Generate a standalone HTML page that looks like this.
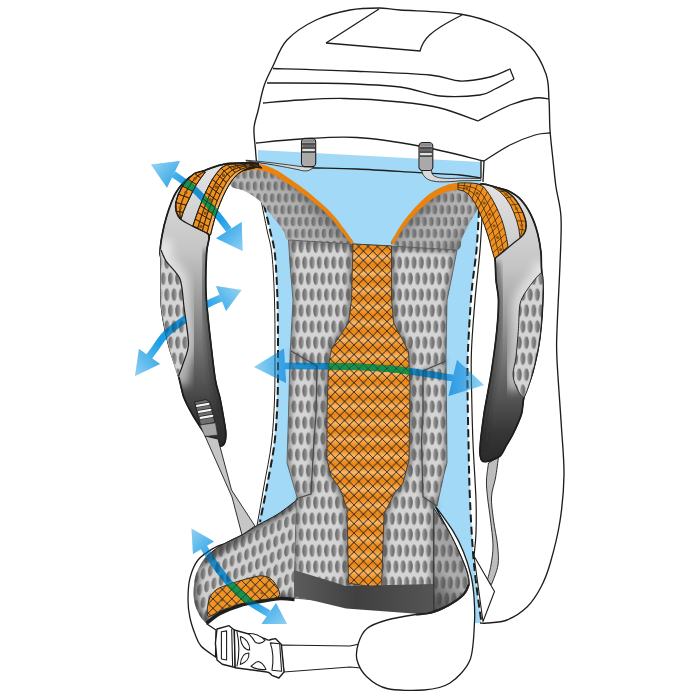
<!DOCTYPE html>
<html><head><meta charset="utf-8"><title>Backpack ventilation illustration</title>
<style>html,body{margin:0;padding:0;background:#fff;}svg{display:block;}</style></head>
<body><svg width="700" height="700" viewBox="0 0 700 700"><defs>
<pattern id="mesh" width="7.26" height="32" patternUnits="userSpaceOnUse" patternTransform="translate(1.84,16.6)">
<rect width="7.26" height="32" fill="#d4d4d4"/>
<ellipse cx="1.8" cy="6" rx="2.55" ry="6.35" fill="url(#dot)"/>
<ellipse cx="5.43" cy="22" rx="2.55" ry="6.35" fill="url(#dot)"/>
<ellipse cx="-1.83" cy="22" rx="2.55" ry="6.35" fill="url(#dot)"/>
<ellipse cx="9.06" cy="6" rx="2.55" ry="6.35" fill="url(#dot)"/>
</pattern>
<linearGradient id="dotR" x1="0" x2="1" y1="0" y2="0"><stop offset="0" stop-color="#a0a0a0"/><stop offset="0.45" stop-color="#838383"/><stop offset="1" stop-color="#636363"/></linearGradient>
<pattern id="meshR" width="7.26" height="32" patternUnits="userSpaceOnUse" patternTransform="translate(1.84,16.6)">
<rect width="7.26" height="32" fill="#d4d4d4"/>
<ellipse cx="1.8" cy="6" rx="2.55" ry="6.35" fill="url(#dotR)"/>
<ellipse cx="5.43" cy="22" rx="2.55" ry="6.35" fill="url(#dotR)"/>
<ellipse cx="-1.83" cy="22" rx="2.55" ry="6.35" fill="url(#dotR)"/>
<ellipse cx="9.06" cy="6" rx="2.55" ry="6.35" fill="url(#dotR)"/>
</pattern>
<pattern id="mesh2R" width="7.26" height="32" patternUnits="userSpaceOnUse" patternTransform="translate(1.84,4) scale(0.95,0.74)">
<rect width="7.26" height="32" fill="#bcbcbc"/>
<ellipse cx="1.8" cy="6" rx="2.55" ry="6.35" fill="url(#dotR)"/>
<ellipse cx="5.43" cy="22" rx="2.55" ry="6.35" fill="url(#dotR)"/>
<ellipse cx="-1.83" cy="22" rx="2.55" ry="6.35" fill="url(#dotR)"/>
<ellipse cx="9.06" cy="6" rx="2.55" ry="6.35" fill="url(#dotR)"/>
</pattern>
<pattern id="mesh3" width="7.26" height="32" patternUnits="userSpaceOnUse" patternTransform="translate(1.84,10) skewY(-24) scale(1,0.9)">
<rect width="7.26" height="32" fill="#cfcfcf"/>
<ellipse cx="1.8" cy="6" rx="2.55" ry="6.35" fill="url(#dot)"/>
<ellipse cx="5.43" cy="22" rx="2.55" ry="6.35" fill="url(#dot)"/>
<ellipse cx="-1.83" cy="22" rx="2.55" ry="6.35" fill="url(#dot)"/>
<ellipse cx="9.06" cy="6" rx="2.55" ry="6.35" fill="url(#dot)"/>
</pattern>
<pattern id="mesh2" width="7.26" height="32" patternUnits="userSpaceOnUse" patternTransform="translate(1.84,4) scale(0.95,0.74)">
<rect width="7.26" height="32" fill="#bcbcbc"/>
<ellipse cx="1.8" cy="6" rx="2.55" ry="6.35" fill="url(#dot)"/>
<ellipse cx="5.43" cy="22" rx="2.55" ry="6.35" fill="url(#dot)"/>
<ellipse cx="-1.83" cy="22" rx="2.55" ry="6.35" fill="url(#dot)"/>
<ellipse cx="9.06" cy="6" rx="2.55" ry="6.35" fill="url(#dot)"/>
</pattern>
<linearGradient id="yshL" x1="250" y1="230" x2="300" y2="180" gradientUnits="userSpaceOnUse"><stop offset="0" stop-color="#4a4a4a" stop-opacity="0.8"/><stop offset="0.4" stop-color="#777" stop-opacity="0.08"/><stop offset="0.75" stop-color="#555" stop-opacity="0.15"/><stop offset="1" stop-color="#4a4a4a" stop-opacity="0.7"/></linearGradient>
<linearGradient id="yshR" x1="485" y1="235" x2="435" y2="185" gradientUnits="userSpaceOnUse"><stop offset="0" stop-color="#4a4a4a" stop-opacity="0.8"/><stop offset="0.4" stop-color="#777" stop-opacity="0.08"/><stop offset="0.75" stop-color="#555" stop-opacity="0.15"/><stop offset="1" stop-color="#4a4a4a" stop-opacity="0.7"/></linearGradient>
<linearGradient id="wsh" x1="433" y1="600" x2="470" y2="560" gradientUnits="userSpaceOnUse"><stop offset="0" stop-color="#3a3a3a" stop-opacity="0.8"/><stop offset="0.55" stop-color="#555" stop-opacity="0.3"/><stop offset="1" stop-color="#555" stop-opacity="0.4"/></linearGradient>
<filter id="bl" x="-20%" y="-20%" width="140%" height="140%"><feGaussianBlur stdDeviation="2.6"/></filter>
<filter id="bl2" x="-20%" y="-20%" width="140%" height="140%"><feGaussianBlur stdDeviation="4"/></filter>
<linearGradient id="dot" x1="0" x2="1" y1="0" y2="0"><stop offset="0" stop-color="#636363"/><stop offset="0.55" stop-color="#838383"/><stop offset="1" stop-color="#a0a0a0"/></linearGradient>
<pattern id="ora" width="9.4" height="9.4" patternUnits="userSpaceOnUse" patternTransform="translate(1.5,2)">
<path d="M0,0 L9.4,9.4 M9.4,0 L0,9.4" stroke="#2e2a2c" stroke-width="0.65" fill="none"/>
</pattern>
<linearGradient id="orab" x1="0" x2="0" y1="406.3" y2="414.6" gradientUnits="userSpaceOnUse" spreadMethod="reflect">
<stop offset="0" stop-color="#f9b96c"/><stop offset="0.45" stop-color="#f39a30"/><stop offset="1" stop-color="#ea8414"/></linearGradient>
<linearGradient id="strapL" x1="0" x2="0" y1="170" y2="445" gradientUnits="userSpaceOnUse">
<stop offset="0" stop-color="#e2e2e2"/><stop offset="0.3" stop-color="#c4c4c4"/><stop offset="0.6" stop-color="#7d7d7d"/><stop offset="0.9" stop-color="#353535"/><stop offset="1" stop-color="#2a2a2a"/></linearGradient>
<linearGradient id="strapR" x1="0" x2="0" y1="185" y2="462" gradientUnits="userSpaceOnUse">
<stop offset="0" stop-color="#e2e2e2"/><stop offset="0.3" stop-color="#c4c4c4"/><stop offset="0.6" stop-color="#7d7d7d"/><stop offset="0.9" stop-color="#353535"/><stop offset="1" stop-color="#2a2a2a"/></linearGradient>
<linearGradient id="band" x1="294" x2="434" y1="0" y2="0" gradientUnits="userSpaceOnUse">
<stop offset="0" stop-color="#5c5c5c"/><stop offset="0.45" stop-color="#404040"/><stop offset="1" stop-color="#555"/></linearGradient>
<linearGradient id="ar1" x1="151" y1="165" x2="243" y2="251" gradientUnits="userSpaceOnUse">
<stop offset="0" stop-color="#93d1f3"/><stop offset="0.3" stop-color="#1e9fe6"/><stop offset="0.7" stop-color="#1e9fe6"/><stop offset="1" stop-color="#93d1f3"/></linearGradient>
<linearGradient id="ar2" x1="134" y1="376" x2="241" y2="290" gradientUnits="userSpaceOnUse">
<stop offset="0" stop-color="#93d1f3"/><stop offset="0.3" stop-color="#1e9fe6"/><stop offset="0.7" stop-color="#1e9fe6"/><stop offset="1" stop-color="#93d1f3"/></linearGradient>
<linearGradient id="ar3" x1="191" y1="528" x2="288" y2="624" gradientUnits="userSpaceOnUse">
<stop offset="0" stop-color="#93d1f3"/><stop offset="0.3" stop-color="#1e9fe6"/><stop offset="0.7" stop-color="#1e9fe6"/><stop offset="1" stop-color="#93d1f3"/></linearGradient>
<linearGradient id="ar4" x1="254" y1="0" x2="484" y2="0" gradientUnits="userSpaceOnUse">
<stop offset="0" stop-color="#93d1f3"/><stop offset="0.2" stop-color="#1e9fe6"/><stop offset="0.8" stop-color="#1e9fe6"/><stop offset="1" stop-color="#93d1f3"/></linearGradient>
<linearGradient id="edgeL" x1="0" x2="1" y1="0" y2="0"><stop offset="0" stop-color="#8a8a8a" stop-opacity="0.9"/><stop offset="1" stop-color="#8a8a8a" stop-opacity="0"/></linearGradient>
</defs>
<path d="M256.5,162.0 C256.3,160.0 255.9,155.7 255.5,150.0 C255.1,144.3 253.6,134.5 254.0,128.0 C254.4,121.5 256.3,118.0 258.0,111.0 C259.7,104.0 261.5,93.5 264.0,86.0 C266.5,78.5 269.2,73.7 273.0,66.0 C276.8,58.3 279.8,47.7 287.0,40.0 C294.2,32.3 305.5,25.0 316.0,20.0 C326.5,15.0 339.5,12.0 350.0,10.0 C360.5,8.0 370.7,8.0 379.0,8.0 C387.3,8.0 386.5,9.0 400.0,10.0 C413.5,11.0 443.3,11.3 460.0,14.0 C476.7,16.7 488.3,20.7 500.0,26.0 C511.7,31.3 522.3,38.0 530.0,46.0 C537.7,54.0 542.8,65.0 546.0,74.0 C549.2,83.0 548.3,90.7 549.0,100.0 C549.7,109.3 549.3,120.0 550.0,130.0 C550.7,140.0 552.0,150.5 553.0,160.0 C554.0,169.5 554.7,177.5 556.0,187.0 C557.3,196.5 560.3,204.2 561.0,217.0 C561.7,229.8 560.7,245.2 560.0,264.0 C559.3,282.8 557.5,314.0 557.0,330.0 C556.5,346.0 556.2,343.7 557.0,360.0 C557.8,376.3 560.3,408.8 561.5,428.0 C562.7,447.2 564.2,459.5 564.0,475.0 C563.8,490.5 562.3,506.2 560.0,521.0 C557.7,535.8 553.2,553.0 550.0,564.0 C546.8,575.0 544.8,579.8 541.0,587.0 C537.2,594.2 532.7,601.5 527.0,607.0 C521.3,612.5 513.7,617.3 507.0,620.0 C500.3,622.7 491.5,622.5 487.0,623.0 C482.5,623.5 481.2,623.0 480.0,623.0 L470,500 L480,210 L481,160 Z" fill="#fff" stroke="none"/>
<path d="M258,150 L481,162 L481,178 L479,210 L476.5,250 L471.5,293 L468,350 L467.5,386 L468.5,443 L470,500 L474,564 L481.5,623 L474,623 L440,560 L300,560 L258,524 L266,488 L274,443 L277,400 L278,350 L277.5,300 L275,255 L270,230 L264,207 L258,185Z" fill="#a2d9f6"/>
<path d="M256.5,162.0 C256.3,160.0 255.9,155.7 255.5,150.0 C255.1,144.3 253.6,134.5 254.0,128.0 C254.4,121.5 256.3,118.0 258.0,111.0 C259.7,104.0 261.5,93.5 264.0,86.0 C266.5,78.5 269.2,73.7 273.0,66.0 C276.8,58.3 279.8,47.7 287.0,40.0 C294.2,32.3 305.5,25.0 316.0,20.0 C326.5,15.0 339.5,12.0 350.0,10.0 C360.5,8.0 370.7,8.0 379.0,8.0 C387.3,8.0 386.5,9.0 400.0,10.0 C413.5,11.0 443.3,11.3 460.0,14.0 C476.7,16.7 488.3,20.7 500.0,26.0 C511.7,31.3 522.3,38.0 530.0,46.0 C537.7,54.0 542.8,65.0 546.0,74.0 C549.2,83.0 548.3,90.7 549.0,100.0 C549.7,109.3 549.3,120.0 550.0,130.0 C550.7,140.0 552.0,150.5 553.0,160.0 C554.0,169.5 554.7,177.5 556.0,187.0 C557.3,196.5 560.3,204.2 561.0,217.0 C561.7,229.8 560.7,245.2 560.0,264.0 C559.3,282.8 557.5,314.0 557.0,330.0 C556.5,346.0 556.2,343.7 557.0,360.0 C557.8,376.3 560.3,408.8 561.5,428.0 C562.7,447.2 564.2,459.5 564.0,475.0 C563.8,490.5 562.3,506.2 560.0,521.0 C557.7,535.8 553.2,553.0 550.0,564.0 C546.8,575.0 544.8,579.8 541.0,587.0 C537.2,594.2 532.7,601.5 527.0,607.0 C521.3,612.5 513.7,617.3 507.0,620.0 C500.3,622.7 491.5,622.5 487.0,623.0 C482.5,623.5 481.2,623.0 480.0,623.0" fill="none" stroke="#1d1d1b" stroke-width="1.35"/>
<path d="M326,43 L379,9 M326,43 L420,51 C423,40 428,32 462,15" fill="none" stroke="#1d1d1b" stroke-width="1.3"/>
<path d="M273.0,68.5 C285.8,68.9 323.8,69.9 350.0,71.0 C376.2,72.1 411.7,73.3 430.0,75.0 C448.3,76.7 450.0,80.7 460.0,81.0 C470.0,81.3 481.7,79.0 490.0,77.0 C498.3,75.0 506.7,70.3 510.0,69.0 L514,79 " fill="none" stroke="#1d1d1b" stroke-width="1.3"/>
<path d="M514.0,79.0 C510.8,80.7 500.7,86.3 495.0,89.0 C489.3,91.7 489.2,93.8 480.0,95.0 C470.8,96.2 453.3,97.3 440.0,96.0 C426.7,94.7 416.7,89.1 400.0,87.0 C383.3,84.9 362.2,84.2 340.0,83.5 C317.8,82.8 279.2,83.1 267.0,83.0" fill="none" stroke="#1d1d1b" stroke-width="1.3"/>
<path d="M263.0,103.0 C269.2,102.5 286.5,100.8 300.0,100.0 C313.5,99.2 327.3,98.2 344.0,98.5 C360.7,98.8 384.0,100.4 400.0,102.0 C416.0,103.6 427.0,104.8 440.0,108.0 C453.0,111.2 471.7,118.8 478.0,121.0 M478.0,121.0 C483.3,118.3 500.5,108.8 510.0,105.0 C519.5,101.2 528.5,99.0 535.0,98.0 C541.5,97.0 546.7,98.8 549.0,99.0" fill="none" stroke="#1d1d1b" stroke-width="1.3"/>
<path d="M256.0,143.0 C263.5,142.3 284.2,139.9 301.0,139.0 C317.8,138.1 337.3,136.3 357.0,137.5 C376.7,138.7 397.8,142.1 419.0,146.0 C440.2,149.9 473.2,158.5 484.0,161.0 M484.0,161.0 C488.3,158.3 501.5,149.3 510.0,145.0 C518.5,140.7 528.3,137.0 535.0,135.0 C541.7,133.0 547.5,133.3 550.0,133.0" fill="none" stroke="#1d1d1b" stroke-width="1.3"/>
<path d="M257.0,162.0 C260.8,162.5 272.8,164.1 280.0,165.0 C287.2,165.9 287.7,166.8 300.5,167.5 C313.3,168.2 337.2,168.1 357.0,169.0 C376.8,169.9 401.8,171.7 419.0,172.7 C436.2,173.7 449.7,174.1 460.0,175.0 C470.3,175.9 477.5,177.5 481.0,178.0" fill="none" stroke="#1d1d1b" stroke-width="1.3"/>
<path d="M481,160 L481,178 M484,161 L483,182" fill="none" stroke="#1d1d1b" stroke-width="1.3"/>
<path d="M259.0,190.0 C259.5,192.5 260.7,198.3 262.0,205.0 C263.3,211.7 265.3,221.7 267.0,230.0 C268.7,238.3 270.8,243.3 272.0,255.0 C273.2,266.7 274.0,284.2 274.5,300.0 C275.0,315.8 275.0,333.3 275.0,350.0 C275.0,366.7 275.1,384.5 274.5,400.0 C273.9,415.5 273.2,428.7 271.5,443.0 C269.8,457.3 266.4,472.2 264.0,486.0 C261.6,499.8 258.2,519.3 257.0,526.0" fill="none" stroke="#1d1d1b" stroke-width="1"/>
<path d="M264.0,205.0 C265.0,209.2 268.2,221.7 270.0,230.0 C271.8,238.3 273.8,243.3 275.0,255.0 C276.2,266.7 277.0,284.2 277.5,300.0 C278.0,315.8 278.0,333.3 278.0,350.0 C278.0,366.7 278.1,384.5 277.5,400.0 C276.9,415.5 276.2,428.7 274.5,443.0 C272.8,457.3 269.4,472.8 267.0,486.0 C264.6,499.2 261.2,516.0 260.0,522.0" fill="none" stroke="#1d1d1b" stroke-width="2" stroke-dasharray="8 4.2"/>
<path d="M479.0,210.0 C478.6,216.7 477.8,236.2 476.5,250.0 C475.2,263.8 472.9,276.3 471.5,293.0 C470.1,309.7 468.7,334.5 468.0,350.0 C467.3,365.5 467.4,370.5 467.5,386.0 C467.6,401.5 468.1,424.0 468.5,443.0 C468.9,462.0 469.1,479.8 470.0,500.0 C470.9,520.2 472.1,543.5 474.0,564.0 C475.9,584.5 480.2,613.2 481.5,623.0" fill="none" stroke="#1d1d1b" stroke-width="2" stroke-dasharray="8 4.2"/>
<path d="M482.5,208.0 C482.1,215.0 481.2,234.7 480.0,250.0 C478.8,265.3 476.4,283.3 475.0,300.0 C473.6,316.7 472.1,335.7 471.5,350.0 C470.9,364.3 471.2,370.5 471.5,386.0 C471.8,401.5 472.2,424.0 473.0,443.0 C473.8,462.0 475.5,485.0 476.0,500.0 C476.5,515.0 476.3,523.7 476.0,533.0 C475.7,542.3 474.3,552.2 474.0,556.0" fill="none" stroke="#1d1d1b" stroke-width="1.2"/>
<path d="M230.0,178.0 C231.6,175.5 240.2,170.1 244.0,168.6 C247.8,167.1 254.7,166.6 258.6,167.0 C262.5,167.4 269.2,169.7 273.0,171.4 C276.8,173.1 283.2,177.5 287.0,180.0 C290.8,182.5 297.6,187.1 301.4,190.0 C305.2,192.9 311.9,198.2 315.7,201.4 C319.5,204.6 326.5,210.6 330.0,214.3 C333.5,218.0 338.9,225.0 342.0,229.0 C345.1,233.0 355.9,242.1 353.0,244.0 C350.1,245.9 328.6,243.5 320.0,243.0 C311.4,242.5 293.4,241.5 288.6,240.0 C283.8,238.5 286.1,234.5 284.0,231.4 C281.9,228.3 276.4,221.2 273.0,217.0 C269.6,212.8 262.5,203.5 258.6,200.0 C254.7,196.5 247.5,192.4 244.0,190.7 C240.5,189.0 233.9,188.7 232.0,187.0 C230.1,185.3 228.4,180.5 230.0,178.0Z" fill="url(#mesh2)"/>
<path d="M230.0,178.0 C231.6,175.5 240.2,170.1 244.0,168.6 C247.8,167.1 254.7,166.6 258.6,167.0 C262.5,167.4 269.2,169.7 273.0,171.4 C276.8,173.1 283.2,177.5 287.0,180.0 C290.8,182.5 297.6,187.1 301.4,190.0 C305.2,192.9 311.9,198.2 315.7,201.4 C319.5,204.6 326.5,210.6 330.0,214.3 C333.5,218.0 338.9,225.0 342.0,229.0 C345.1,233.0 355.9,242.1 353.0,244.0 C350.1,245.9 328.6,243.5 320.0,243.0 C311.4,242.5 293.4,241.5 288.6,240.0 C283.8,238.5 286.1,234.5 284.0,231.4 C281.9,228.3 276.4,221.2 273.0,217.0 C269.6,212.8 262.5,203.5 258.6,200.0 C254.7,196.5 247.5,192.4 244.0,190.7 C240.5,189.0 233.9,188.7 232.0,187.0 C230.1,185.3 228.4,180.5 230.0,178.0Z" fill="url(#yshL)"/>
<path d="M391.5,244.0 C388.8,241.6 397.7,233.4 400.0,230.0 C402.3,226.6 406.0,221.6 408.5,218.5 C411.0,215.4 415.9,210.0 419.0,207.0 C422.1,204.0 428.0,198.5 431.5,196.0 C435.0,193.5 441.5,189.7 445.0,188.0 C448.5,186.3 453.9,183.3 458.0,183.0 C462.1,182.7 473.3,182.8 476.0,186.0 C478.7,189.2 478.8,202.2 478.0,207.0 C477.2,211.8 472.1,217.9 470.0,222.0 C467.9,226.1 463.7,234.3 462.0,238.0 C460.3,241.7 462.6,248.7 457.0,250.0 C451.4,251.3 428.7,248.8 420.0,248.0 C411.3,247.2 394.2,246.4 391.5,244.0Z" fill="url(#mesh2R)"/>
<path d="M391.5,244.0 C388.8,241.6 397.7,233.4 400.0,230.0 C402.3,226.6 406.0,221.6 408.5,218.5 C411.0,215.4 415.9,210.0 419.0,207.0 C422.1,204.0 428.0,198.5 431.5,196.0 C435.0,193.5 441.5,189.7 445.0,188.0 C448.5,186.3 453.9,183.3 458.0,183.0 C462.1,182.7 473.3,182.8 476.0,186.0 C478.7,189.2 478.8,202.2 478.0,207.0 C477.2,211.8 472.1,217.9 470.0,222.0 C467.9,226.1 463.7,234.3 462.0,238.0 C460.3,241.7 462.6,248.7 457.0,250.0 C451.4,251.3 428.7,248.8 420.0,248.0 C411.3,247.2 394.2,246.4 391.5,244.0Z" fill="url(#yshR)"/>
<path d="M288.5,240 L353,244 L391.5,246 L457,250 L451.5,278.5 L447,300 L446,357 L447,463 L444,474 L437,506 L434,506 L433,612 L294,598 L296,500 L297,497 L287,463 L288.5,414 L290,357 L293,300 L290,264Z" fill="url(#mesh)"/>
<clipPath id="crh"><rect x="371" y="200" width="200" height="450"/></clipPath>
<path d="M288.5,240 L353,244 L391.5,246 L457,250 L451.5,278.5 L447,300 L446,357 L447,463 L444,474 L437,506 L434,506 L433,612 L294,598 L296,500 L297,497 L287,463 L288.5,414 L290,357 L293,300 L290,264Z" fill="url(#meshR)" clip-path="url(#crh)"/>
<clipPath id="cbm"><path d="M288.5,240 L353,244 L391.5,246 L457,250 L451.5,278.5 L447,300 L446,357 L447,463 L444,474 L437,506 L434,506 L433,612 L294,598 L296,500 L297,497 L287,463 L288.5,414 L290,357 L293,300 L290,264Z"/></clipPath>
<g clip-path="url(#cbm)"><path d="M288.5,240 L353,244 L391.5,246 L457,250 L451.5,278.5 L447,300 L446,357 L447,463 L444,474 L437,506 L434,506 L433,612 L294,598 L296,500 L297,497 L287,463 L288.5,414 L290,357 L293,300 L290,264Z" fill="none" stroke="#4a4a4a" stroke-opacity="0.55" stroke-width="6" filter="url(#bl)"/><path d="M353,244 L391.5,246 L391.5,300 L393.7,323 L408.5,351.5 L410,386 L409,460 L403,483 L394,494 L384,514 L381.5,588.5 L348.5,583 L347,508.5 L340,488.5 L331.5,477 L327,460 L327,414 L328.5,366 L331.5,348.5 L348.5,323 L351.5,300Z" fill="none" stroke="#3a3a3a" stroke-opacity="0.55" stroke-width="7" filter="url(#bl)"/></g>
<path d="M288.5,240 L353,244 L391.5,246 L457,250 L451.5,278.5 L447,300 L446,357 L447,463 L444,474 L437,506 L434,506 L433,612 L294,598 L296,500 L297,497 L287,463 L288.5,414 L290,357 L293,300 L290,264Z" fill="none" stroke="#555" stroke-width="0.8"/>
<path d="M291,351 L317,366 L316,414 L314,440 L311,494 L297,498.5" fill="none" stroke="#555" stroke-opacity="0.5" stroke-width="4" filter="url(#bl)"/>
<path d="M291,351 L317,366 L316,414 L314,440 L311,494 L297,498.5" fill="none" stroke="#4a4a4a" stroke-width="1.3"/>
<path d="M446,361 L423,371 L423,414 L421.5,440 L423,497 L437,506" fill="none" stroke="#555" stroke-opacity="0.5" stroke-width="4" filter="url(#bl)"/>
<path d="M446,361 L423,371 L423,414 L421.5,440 L423,497 L437,506" fill="none" stroke="#4a4a4a" stroke-width="1.3"/>
<path d="M353,244 L391.5,246 L391.5,300 L393.7,323 L408.5,351.5 L410,386 L409,460 L403,483 L394,494 L384,514 L381.5,588.5 L348.5,583 L347,508.5 L340,488.5 L331.5,477 L327,460 L327,414 L328.5,366 L331.5,348.5 L348.5,323 L351.5,300Z" fill="url(#orab)"/>
<path d="M353,244 L391.5,246 L391.5,300 L393.7,323 L408.5,351.5 L410,386 L409,460 L403,483 L394,494 L384,514 L381.5,588.5 L348.5,583 L347,508.5 L340,488.5 L331.5,477 L327,460 L327,414 L328.5,366 L331.5,348.5 L348.5,323 L351.5,300Z" fill="url(#ora)" stroke="#333" stroke-width="0.8"/>
<path d="M353.8,242.6 L351.5,239.3 L349.3,236.1 L347.0,232.8 L344.7,229.6 L342.3,226.4 L339.9,223.2 L337.5,220.1 L335.0,217.0 L332.3,213.9 L329.6,211.0 L326.7,208.2 L323.7,205.5 L320.7,202.8 L317.7,200.2 L314.7,197.7 L311.7,195.1 L308.6,192.6 L305.4,190.1 L302.3,187.7 L299.1,185.3 L295.8,182.9 L292.6,180.7 L289.3,178.4 L286.0,176.2 L282.7,174.0 L279.3,171.8 L275.7,169.7 L272.0,167.9 L268.2,166.4 L264.2,165.1 L260.0,164.2 L255.7,163.9 L251.4,164.0 L247.2,164.6 L243.0,165.7 L239.0,167.3 L235.3,169.2 L231.8,171.2 L228.3,173.2 L231.7,178.8 L235.0,176.8 L238.4,174.8 L241.6,173.0 L244.9,171.5 L248.4,170.6 L252.0,170.0 L255.6,169.8 L259.2,170.0 L262.8,170.7 L266.3,171.7 L269.8,173.0 L273.3,174.6 L276.6,176.4 L279.8,178.4 L283.1,180.6 L286.4,182.7 L289.7,184.9 L293.0,187.0 L296.2,189.3 L299.4,191.5 L302.6,193.9 L305.7,196.2 L308.8,198.6 L311.9,201.1 L314.9,203.6 L317.9,206.1 L320.9,208.6 L323.9,211.2 L326.7,213.9 L329.4,216.6 L332.0,219.5 L334.5,222.5 L337.0,225.5 L339.4,228.6 L341.8,231.7 L344.2,234.9 L346.5,238.0 L348.9,241.2 L351.2,244.4Z" fill="#ea820e"/>
<path d="M393.6,244.2 L394.8,242.2 L395.9,240.2 L397.1,238.2 L398.3,236.2 L399.5,234.2 L400.7,232.3 L402.0,230.4 L403.3,228.5 L404.6,226.7 L406.0,224.9 L407.5,223.1 L408.9,221.3 L410.4,219.6 L411.9,217.9 L413.5,216.2 L415.0,214.5 L416.6,212.8 L418.2,211.2 L419.9,209.6 L421.5,208.0 L423.2,206.5 L424.9,204.9 L426.6,203.4 L428.4,202.0 L430.1,200.5 L431.9,199.2 L433.7,198.0 L435.6,196.9 L437.5,195.8 L439.5,194.8 L441.5,193.8 L443.5,193.0 L445.6,192.2 L447.6,191.5 L449.7,191.0 L451.8,190.6 L454.1,190.2 L456.3,189.8 L458.7,189.4 L457.3,182.6 L455.1,183.0 L452.8,183.5 L450.4,184.0 L448.1,184.6 L445.7,185.4 L443.3,186.2 L441.1,187.2 L438.9,188.2 L436.7,189.4 L434.6,190.6 L432.5,191.9 L430.5,193.2 L428.5,194.7 L426.6,196.2 L424.8,197.8 L423.0,199.5 L421.3,201.1 L419.7,202.8 L418.0,204.4 L416.4,206.1 L414.7,207.8 L413.2,209.6 L411.6,211.4 L410.1,213.2 L408.6,215.0 L407.1,216.8 L405.6,218.7 L404.2,220.6 L402.8,222.5 L401.4,224.4 L400.1,226.4 L398.8,228.4 L397.6,230.4 L396.4,232.5 L395.3,234.5 L394.2,236.6 L393.1,238.7 L392.1,240.7 L391.0,242.8Z" fill="#ea820e"/>
<path d="M294,570 L346,586 L434,584 L434,611 L420,614 L346,608.5 L294,596 Z" fill="url(#band)"/>
<path d="M242.0,535.0 C239.3,536.3 230.7,540.8 226.0,543.0 C221.3,545.2 218.7,545.2 214.0,548.0 C209.3,550.8 202.0,555.0 198.0,560.0 C194.0,565.0 191.7,571.3 190.0,578.0 C188.3,584.7 188.0,593.3 188.0,600.0 C188.0,606.7 188.8,612.3 190.0,618.0 C191.2,623.7 193.2,629.3 195.0,634.0 C196.8,638.7 197.6,642.2 201.0,646.0 C204.4,649.8 213.1,655.2 215.5,657.0 L216,630 L207,624 L230,560 Z" fill="#fff" stroke="#1d1d1b" stroke-width="1.3"/>
<path d="M298.0,499.0 C294.7,501.5 284.7,509.7 278.0,514.0 C271.3,518.3 264.0,521.5 258.0,525.0 C252.0,528.5 248.3,531.5 242.0,535.0 C235.7,538.5 225.8,542.5 220.0,546.0 C214.2,549.5 209.2,554.3 207.0,556.0 L207.0,556.0 C206.2,557.0 204.0,558.3 202.0,562.0 C200.0,565.7 196.3,571.7 195.0,578.0 C193.7,584.3 193.2,593.7 194.0,600.0 C194.8,606.3 197.8,612.0 200.0,616.0 C202.2,620.0 205.8,622.7 207.0,624.0 L207.0,624.0 C209.2,622.3 214.5,617.0 220.0,614.0 C225.5,611.0 233.3,608.0 240.0,606.0 C246.7,604.0 253.3,603.2 260.0,602.0 C266.7,600.8 274.3,599.3 280.0,599.0 C285.7,598.7 291.7,599.8 294.0,600.0 L294,569 L296,500 Z" fill="url(#mesh3)"/>
<clipPath id="chl"><path d="M298.0,499.0 C294.7,501.5 284.7,509.7 278.0,514.0 C271.3,518.3 264.0,521.5 258.0,525.0 C252.0,528.5 248.3,531.5 242.0,535.0 C235.7,538.5 225.8,542.5 220.0,546.0 C214.2,549.5 209.2,554.3 207.0,556.0 L207.0,556.0 C206.2,557.0 204.0,558.3 202.0,562.0 C200.0,565.7 196.3,571.7 195.0,578.0 C193.7,584.3 193.2,593.7 194.0,600.0 C194.8,606.3 197.8,612.0 200.0,616.0 C202.2,620.0 205.8,622.7 207.0,624.0 L207.0,624.0 C209.2,622.3 214.5,617.0 220.0,614.0 C225.5,611.0 233.3,608.0 240.0,606.0 C246.7,604.0 253.3,603.2 260.0,602.0 C266.7,600.8 274.3,599.3 280.0,599.0 C285.7,598.7 291.7,599.8 294.0,600.0 L294,569 L296,500 Z"/></clipPath>
<g clip-path="url(#chl)"><path d="M207.0,556.0 C209.2,554.3 214.2,549.5 220.0,546.0 C225.8,542.5 235.7,538.5 242.0,535.0 C248.3,531.5 252.0,528.5 258.0,525.0 C264.0,521.5 271.3,518.3 278.0,514.0 C284.7,509.7 310.7,491.0 298.0,499.0 C285.3,507.0 219.2,548.8 202.0,562.0 C184.8,575.2 196.3,571.7 195.0,578.0 C193.7,584.3 193.2,593.7 194.0,600.0 C194.8,606.3 197.8,612.0 200.0,616.0 C202.2,620.0 203.7,624.3 207.0,624.0 C210.3,623.7 214.5,617.0 220.0,614.0 C225.5,611.0 233.3,608.0 240.0,606.0 C246.7,604.0 253.3,603.2 260.0,602.0 C266.7,600.8 274.3,599.3 280.0,599.0 C285.7,598.7 291.7,599.8 294.0,600.0" fill="none" stroke="#3c3c3c" stroke-opacity="0.7" stroke-width="9" filter="url(#bl)"/></g>
<path d="M298.0,499.0 C294.7,501.5 284.7,509.7 278.0,514.0 C271.3,518.3 264.0,521.5 258.0,525.0 C252.0,528.5 248.3,531.5 242.0,535.0 C235.7,538.5 225.8,542.5 220.0,546.0 C214.2,549.5 209.2,554.3 207.0,556.0" fill="none" stroke="#1d1d1b" stroke-width="1"/>
<path d="M206.5,623.5 C208.8,621.8 214.4,616.5 220.0,613.5 C225.6,610.5 233.3,607.5 240.0,605.5 C246.7,603.5 253.3,602.7 260.0,601.5 C266.7,600.3 274.2,598.8 280.0,598.5 C285.8,598.2 292.1,599.3 294.5,599.5" fill="none" stroke="#1e1e1e" stroke-width="3.6"/>
<path d="M208.0,616.0 C206.2,614.2 207.7,604.3 209.0,600.0 C210.3,595.7 212.5,592.7 216.0,590.0 C219.5,587.3 224.3,586.0 230.0,584.0 C235.7,582.0 244.3,579.3 250.0,578.0 C255.7,576.7 260.0,575.3 264.0,576.0 C268.0,576.7 271.5,578.7 274.0,582.0 C276.5,585.3 281.3,593.0 279.0,596.0 C276.7,599.0 266.5,598.7 260.0,600.0 C253.5,601.3 246.7,602.2 240.0,604.0 C233.3,605.8 225.3,609.0 220.0,611.0 C214.7,613.0 209.8,617.8 208.0,616.0Z" fill="#f29422"/>
<path d="M208.0,616.0 C206.2,614.2 207.7,604.3 209.0,600.0 C210.3,595.7 212.5,592.7 216.0,590.0 C219.5,587.3 224.3,586.0 230.0,584.0 C235.7,582.0 244.3,579.3 250.0,578.0 C255.7,576.7 260.0,575.3 264.0,576.0 C268.0,576.7 271.5,578.7 274.0,582.0 C276.5,585.3 281.3,593.0 279.0,596.0 C276.7,599.0 266.5,598.7 260.0,600.0 C253.5,601.3 246.7,602.2 240.0,604.0 C233.3,605.8 225.3,609.0 220.0,611.0 C214.7,613.0 209.8,617.8 208.0,616.0Z" fill="url(#ora)" stroke="#222" stroke-width="0.9"/>
<circle cx="222" cy="600" r="1.6" fill="#9a5c10"/>
<circle cx="236" cy="594" r="1.6" fill="#9a5c10"/>
<circle cx="252" cy="589" r="1.6" fill="#9a5c10"/>
<circle cx="266" cy="585" r="1.6" fill="#9a5c10"/>
<circle cx="230" cy="606" r="1.6" fill="#9a5c10"/>
<circle cx="246" cy="598" r="1.6" fill="#9a5c10"/>
<circle cx="262" cy="593" r="1.6" fill="#9a5c10"/>
<path d="M281,645 L350,646 L360,644 L361,668 L350,667 L284,672 Z" fill="#fff" stroke="#1d1d1b" stroke-width="1.1"/>
<path d="M217,629 L229,625.7 L234.3,630 L235.2,667.5 L222.3,664.3 L217,660 L215.4,643Z" fill="#fff" stroke="#1d1d1b" stroke-width="1.4" stroke-linejoin="round"/>
<path d="M221.4,631.7 L226.6,630.9 L226.6,660 L221.4,659 Z M231.7,629 L232.6,666" fill="none" stroke="#1d1d1b" stroke-width="1.1" stroke-linejoin="round"/>
<path d="M234.3,630 L265,638.6 C267,640.5 269,640.5 271,639.5 L275.4,638.6 L281.4,644.6 L284,672 L278.9,678 L272,675.4 C270,673 268,672 266.9,672 L235.2,667.7 Z" fill="#fff" stroke="#1d1d1b" stroke-width="1.4" stroke-linejoin="round"/>
<path d="M236.9,631.5 C239.5,643 239.5,655 236.9,666.5" fill="none" stroke="#1d1d1b" stroke-width="1.1"/>
<path d="M240.3,636.5 C246,638 250,644 249.7,650 C245.5,650 241,646 240.3,636.5Z M240.3,664.5 C246,662.5 249.5,658 248.9,653 C244.5,653 241,657 240.3,664.5Z" fill="#fff" stroke="#1d1d1b" stroke-width="1.1" stroke-linejoin="round"/>
<path d="M248.5,633.6 C254,633 261,636 265,640.3 C262,643.5 258,644 255,642 C253.5,639 251,636 248.5,633.6Z M251,666.2 C254,664 256,661.5 258.5,661.5 C262,662.5 264.5,666 266,669.4 C261,670 255,669 251,666.2Z" fill="#fff" stroke="#1d1d1b" stroke-width="1.1" stroke-linejoin="round"/>
<path d="M270.3,642.9 L279.7,643.7 L281.6,671.2 L272,670.3 C273.5,661 273.5,652 270.3,642.9Z" fill="#fff" stroke="#1d1d1b" stroke-width="1.1" stroke-linejoin="round"/>
<path d="M435.7,507.0 C436.3,507.0 448.6,524.0 452.8,530.7 C457.0,537.5 460.8,545.3 463.5,552.0 C466.2,558.7 469.4,568.9 471.0,575.6 C472.6,582.4 473.5,590.0 474.0,597.0 C474.5,604.0 475.1,612.5 474.5,622.0 C473.9,631.5 473.7,650.9 470.0,660.0 C466.3,669.1 456.9,678.5 450.0,683.0 C443.1,687.5 433.4,689.2 424.0,690.0 C414.6,690.8 395.6,690.5 387.0,688.5 C378.4,686.5 371.5,681.3 367.0,677.0 C362.5,672.7 358.3,665.1 357.0,660.0 C355.7,654.9 357.0,647.7 358.5,643.0 C360.0,638.3 362.7,632.0 367.0,628.5 C371.3,625.0 379.6,622.1 387.0,620.0 C394.4,617.9 409.4,615.5 416.0,614.5 C422.6,613.5 426.1,614.3 431.0,613.0 C435.9,611.7 443.6,608.3 448.5,605.6 C453.4,602.9 460.4,598.2 463.5,595.0 C466.6,591.8 468.5,587.6 469.0,584.0 C469.5,580.4 468.2,575.8 466.7,571.0 C465.2,566.2 461.7,558.0 459.0,552.0 C456.3,546.0 452.0,537.5 448.5,530.7 C445.0,524.0 435.1,507.0 435.7,507.0Z" fill="#fff" stroke="#1d1d1b" stroke-width="1.3"/>
<path d="M433.6,508.0 C436.1,511.8 444.3,523.4 448.5,530.7 C452.7,538.0 456.0,545.3 459.0,552.0 C462.0,558.7 465.0,565.7 466.7,571.0 C468.4,576.3 469.5,580.0 469.0,584.0 C468.5,588.0 466.9,591.4 463.5,595.0 C460.1,598.6 453.9,602.6 448.5,605.6 C443.1,608.6 433.9,611.8 431.0,613.0 L433.6,612 Z" fill="url(#meshR)"/>
<path d="M433.6,508.0 C436.1,511.8 444.3,523.4 448.5,530.7 C452.7,538.0 456.0,545.3 459.0,552.0 C462.0,558.7 465.0,565.7 466.7,571.0 C468.4,576.3 469.5,580.0 469.0,584.0 C468.5,588.0 466.9,591.4 463.5,595.0 C460.1,598.6 453.9,602.6 448.5,605.6 C443.1,608.6 433.9,611.8 431.0,613.0 L433.6,612 Z" fill="url(#wsh)"/>
<path d="M433.6,508.0 C436.1,511.8 444.3,523.4 448.5,530.7 C452.7,538.0 456.0,545.3 459.0,552.0 C462.0,558.7 465.0,565.7 466.7,571.0 C468.4,576.3 468.6,581.8 469.0,584.0" fill="none" stroke="#1d1d1b" stroke-width="1"/>
<path d="M433.8,509 L433.8,611" fill="none" stroke="#333" stroke-width="1.2"/>
<path d="M416.0,614.5 C418.5,614.2 425.6,614.0 431.0,612.5 C436.4,611.0 443.1,608.2 448.5,605.2 C453.9,602.2 460.1,598.0 463.5,594.5 C466.9,591.0 468.1,585.8 469.0,584.0" fill="none" stroke="#222" stroke-width="2.2"/>
<path d="M488.5,463.0 C488.2,465.8 486.7,474.3 486.5,480.0 C486.3,485.7 486.8,490.3 487.5,497.0 C488.2,503.7 489.6,512.0 490.5,520.0 C491.4,528.0 492.9,537.5 493.0,545.0 C493.1,552.5 492.0,558.9 491.0,565.0 C490.0,571.1 487.7,578.8 487.0,581.5 L491.5,584.5 C492.6,581.2 497.0,571.6 498.0,565.0 C499.0,558.4 498.2,552.5 497.5,545.0 C496.8,537.5 494.5,528.0 493.5,520.0 C492.5,512.0 491.2,504.0 491.5,497.0 C491.8,490.0 494.3,484.7 495.5,478.0 C496.7,471.3 498.0,460.5 498.5,457.0 Z" fill="#bdbdbd" stroke="#1d1d1b" stroke-width="0.9" stroke-linejoin="round"/>
<path d="M474,556 L494.5,591.5 L483,621.5 Z" fill="#fff" stroke="#1d1d1b" stroke-width="1.1" stroke-linejoin="round"/>
<path d="M256.0,163.0 C252.1,162.6 233.6,162.8 227.0,163.7 C220.4,164.6 211.5,167.9 206.5,169.7 C201.5,171.5 193.5,174.3 189.4,177.4 C185.3,180.5 178.7,188.0 175.7,193.0 C172.7,198.0 168.8,209.3 167.0,215.0 C165.2,220.7 162.9,230.6 162.0,235.7 C161.1,240.8 160.1,249.6 160.0,253.0 C159.9,256.4 160.8,253.8 161.0,261.0 C161.2,268.2 160.5,295.9 161.5,307.0 C162.5,318.1 166.2,334.8 168.5,344.0 C170.8,353.2 176.5,368.9 178.5,376.0 C180.5,383.1 181.9,391.9 183.7,397.0 C185.5,402.1 190.0,410.2 192.3,414.3 C194.6,418.4 199.1,425.2 200.9,428.0 C202.7,430.8 204.3,432.9 206.0,435.0 C207.7,437.1 211.9,442.5 214.0,444.0 C216.1,445.5 219.9,446.3 221.4,446.0 C222.9,445.7 224.4,443.6 225.0,441.7 C225.6,439.8 226.0,435.1 225.7,431.4 C225.4,427.7 223.8,418.9 223.0,414.3 C222.2,409.7 220.7,401.6 219.7,397.0 C218.7,392.4 216.7,388.1 215.4,380.0 C214.1,371.9 211.3,347.6 210.0,336.0 C208.7,324.4 206.5,304.1 206.0,293.0 C205.5,281.9 206.2,260.2 206.6,253.0 C207.0,245.8 208.7,241.5 209.0,239.0 C209.3,236.5 208.6,236.3 209.0,234.0 C209.4,231.7 210.6,225.4 211.7,222.0 C212.8,218.6 215.5,212.0 216.9,208.3 C218.3,204.6 220.4,198.0 222.0,194.6 C223.6,191.2 226.6,185.6 228.9,182.6 C231.2,179.6 235.4,174.1 239.0,172.0 C242.6,169.9 253.7,168.2 256.0,167.0 C258.3,165.8 259.9,163.4 256.0,163.0Z" fill="url(#strapL)" stroke="#1d1d1b" stroke-width="1.2"/>
<clipPath id="csl"><path d="M256.0,163.0 C252.1,162.6 233.6,162.8 227.0,163.7 C220.4,164.6 211.5,167.9 206.5,169.7 C201.5,171.5 193.5,174.3 189.4,177.4 C185.3,180.5 178.7,188.0 175.7,193.0 C172.7,198.0 168.8,209.3 167.0,215.0 C165.2,220.7 162.9,230.6 162.0,235.7 C161.1,240.8 160.1,249.6 160.0,253.0 C159.9,256.4 160.8,253.8 161.0,261.0 C161.2,268.2 160.5,295.9 161.5,307.0 C162.5,318.1 166.2,334.8 168.5,344.0 C170.8,353.2 176.5,368.9 178.5,376.0 C180.5,383.1 181.9,391.9 183.7,397.0 C185.5,402.1 190.0,410.2 192.3,414.3 C194.6,418.4 199.1,425.2 200.9,428.0 C202.7,430.8 204.3,432.9 206.0,435.0 C207.7,437.1 211.9,442.5 214.0,444.0 C216.1,445.5 219.9,446.3 221.4,446.0 C222.9,445.7 224.4,443.6 225.0,441.7 C225.6,439.8 226.0,435.1 225.7,431.4 C225.4,427.7 223.8,418.9 223.0,414.3 C222.2,409.7 220.7,401.6 219.7,397.0 C218.7,392.4 216.7,388.1 215.4,380.0 C214.1,371.9 211.3,347.6 210.0,336.0 C208.7,324.4 206.5,304.1 206.0,293.0 C205.5,281.9 206.2,260.2 206.6,253.0 C207.0,245.8 208.7,241.5 209.0,239.0 C209.3,236.5 208.6,236.3 209.0,234.0 C209.4,231.7 210.6,225.4 211.7,222.0 C212.8,218.6 215.5,212.0 216.9,208.3 C218.3,204.6 220.4,198.0 222.0,194.6 C223.6,191.2 226.6,185.6 228.9,182.6 C231.2,179.6 235.4,174.1 239.0,172.0 C242.6,169.9 253.7,168.2 256.0,167.0 C258.3,165.8 259.9,163.4 256.0,163.0Z"/></clipPath>
<g clip-path="url(#csl)"><path d="M163.0,240.0 C163.4,242.8 163.7,255.8 166.0,261.0 C168.3,266.2 177.6,272.9 180.0,279.0 C182.4,285.1 182.9,298.3 184.0,307.0 C185.1,315.7 188.6,336.4 188.5,344.0 C188.4,351.6 184.1,358.5 183.0,364.0 C181.9,369.5 180.4,382.2 180.0,385.0" fill="none" stroke="#fff" stroke-opacity="0.55" stroke-width="16" filter="url(#bl2)"/><path d="M208.0,250.0 C207.7,255.7 205.7,281.5 206.0,293.0 C206.3,304.5 208.7,324.4 210.0,336.0 C211.3,347.6 214.1,371.9 215.4,380.0 C216.7,388.1 218.7,392.4 219.7,397.0 C220.7,401.6 222.6,412.0 223.0,414.3" fill="none" stroke="#222" stroke-opacity="0.45" stroke-width="10" filter="url(#bl)"/></g>
<path d="M256.0,163.0 C252.1,162.6 233.6,162.8 227.0,163.7 C220.4,164.6 211.5,167.9 206.5,169.7 C201.5,171.5 193.5,174.3 189.4,177.4 C185.3,180.5 178.7,188.0 175.7,193.0 C172.7,198.0 168.8,209.3 167.0,215.0 C165.2,220.7 162.9,230.6 162.0,235.7 C161.1,240.8 160.1,249.6 160.0,253.0 C159.9,256.4 160.8,253.8 161.0,261.0 C161.2,268.2 160.5,295.9 161.5,307.0 C162.5,318.1 166.2,334.8 168.5,344.0 C170.8,353.2 176.5,368.9 178.5,376.0 C180.5,383.1 181.9,391.9 183.7,397.0 C185.5,402.1 190.0,410.2 192.3,414.3 C194.6,418.4 199.1,425.2 200.9,428.0 C202.7,430.8 204.3,432.9 206.0,435.0 C207.7,437.1 211.9,442.5 214.0,444.0 C216.1,445.5 219.9,446.3 221.4,446.0 C222.9,445.7 224.4,443.6 225.0,441.7 C225.6,439.8 226.0,435.1 225.7,431.4 C225.4,427.7 223.8,418.9 223.0,414.3 C222.2,409.7 220.7,401.6 219.7,397.0 C218.7,392.4 216.7,388.1 215.4,380.0 C214.1,371.9 211.3,347.6 210.0,336.0 C208.7,324.4 206.5,304.1 206.0,293.0 C205.5,281.9 206.2,260.2 206.6,253.0 C207.0,245.8 208.7,241.5 209.0,239.0 C209.3,236.5 208.6,236.3 209.0,234.0 C209.4,231.7 210.6,225.4 211.7,222.0 C212.8,218.6 215.5,212.0 216.9,208.3 C218.3,204.6 220.4,198.0 222.0,194.6 C223.6,191.2 226.6,185.6 228.9,182.6 C231.2,179.6 235.4,174.1 239.0,172.0 C242.6,169.9 253.7,168.2 256.0,167.0 C258.3,165.8 259.9,163.4 256.0,163.0Z" fill="none" stroke="#1d1d1b" stroke-width="1.7"/>
<path d="M160.5,253.0 C160.5,254.5 160.9,253.8 161.0,261.0 C161.1,268.2 160.5,295.9 161.5,307.0 C162.5,318.1 166.2,334.8 168.5,344.0 C170.8,353.2 176.6,373.3 178.5,376.0 C180.4,378.7 181.7,368.3 183.0,364.0 C184.3,359.7 188.4,351.6 188.5,344.0 C188.6,336.4 185.1,315.7 184.0,307.0 C182.9,298.3 182.4,285.1 180.0,279.0 C177.6,272.9 168.5,264.9 166.0,261.0 C163.5,257.1 161.7,251.1 161.0,250.0 C160.3,248.9 160.5,251.5 160.5,253.0Z" fill="url(#mesh)" stroke="#bbb" stroke-width="0.8"/>
<path d="M161.0,250.0 C161.7,251.5 163.5,257.1 166.0,261.0 C168.5,264.9 177.6,272.9 180.0,279.0 C182.4,285.1 182.9,298.3 184.0,307.0 C185.1,315.7 188.6,336.4 188.5,344.0 C188.4,351.6 184.3,359.7 183.0,364.0 C181.7,368.3 179.1,374.4 178.5,376.0" fill="none" stroke="#1d1d1b" stroke-width="1.2"/>
<path d="M203.0,171.0 L194.5,173.4 L187.9,179.2 L182.5,186.2 L178.4,194.1 L175.8,202.5 L176.1,211.3 L180.3,219.0 L180.9,219.5 L183.2,212.2 L186.2,205.1 L189.5,198.2 L192.8,191.2 L196.4,184.5 L200.8,178.1 L205.4,172.0Z" fill="#f0901e"/><path d="M194.5,173.4 L200.8,178.1 M187.9,179.2 L196.4,184.5 M182.5,186.2 L192.8,191.2 M178.4,194.1 L189.5,198.2 M175.8,202.5 L186.2,205.1 M176.1,211.3 L183.2,212.2 M204.2,171.5 L197.7,175.8 L192.2,181.9 L187.7,188.7 L184.0,196.1 L181.0,203.8 L179.7,211.7 L180.6,219.2" fill="none" stroke="#2a1c08" stroke-width="0.7"/><circle cx="194.9" cy="178.8" r="1.5" fill="#8a5410"/><circle cx="185.8" cy="192.4" r="1.5" fill="#8a5410"/><circle cx="180.3" cy="207.8" r="1.5" fill="#8a5410"/><path d="M203.0,171.0 L194.5,173.4 L187.9,179.2 L182.5,186.2 L178.4,194.1 L175.8,202.5 L176.1,211.3 L180.3,219.0 L180.9,219.5 L183.2,212.2 L186.2,205.1 L189.5,198.2 L192.8,191.2 L196.4,184.5 L200.8,178.1 L205.4,172.0Z" fill="none" stroke="#1d1d1b" stroke-width="0.9"/>
<path d="M256.0,163.5 L248.8,163.6 L241.6,163.7 L234.4,163.9 L227.2,164.6 L221.0,168.0 L216.4,173.5 L212.3,179.4 L208.8,185.8 L205.7,192.2 L202.8,198.8 L200.1,205.5 L197.5,212.3 L195.2,219.1 L192.9,225.9 L210.5,235.0 L212.1,228.5 L213.8,222.0 L215.7,215.6 L217.8,209.3 L220.2,203.0 L222.8,196.9 L225.7,190.8 L229.0,185.0 L232.7,179.4 L237.2,174.5 L242.6,170.6 L248.7,167.8 L255.3,167.3 L262.0,168.0Z" fill="#f0901e"/><path d="M260.8,167.1 L254.0,166.5 L247.3,167.0 L241.0,169.3 L235.2,172.5 L230.4,177.1 L226.4,182.7 L223.1,188.6 L220.0,194.6 L217.3,200.8 L214.8,207.2 L212.6,213.6 L210.6,220.1 L208.7,226.6 L207.0,233.2 L210.5,235.0 L212.1,228.5 L213.8,222.0 L215.7,215.6 L217.8,209.3 L220.2,203.0 L222.8,196.9 L225.7,190.8 L229.0,185.0 L232.7,179.4 L237.2,174.5 L242.6,170.6 L248.7,167.8 L255.3,167.3 L262.0,168.0Z" fill="#f6b25c"/><path d="M248.8,163.6 L254.0,166.5 M241.6,163.7 L247.3,167.0 M234.4,163.9 L241.0,169.3 M227.2,164.6 L235.2,172.5 M221.0,168.0 L230.4,177.1 M216.4,173.5 L226.4,182.7 M212.3,179.4 L223.1,188.6 M208.8,185.8 L220.0,194.6 M205.7,192.2 L217.3,200.8 M202.8,198.8 L214.8,207.2 M200.1,205.5 L212.6,213.6 M197.5,212.3 L210.6,220.1 M195.2,219.1 L208.7,226.6 M257.6,164.7 L250.5,164.5 L243.5,164.8 L236.6,165.7 L229.9,167.2 L224.1,171.0 L219.7,176.6 L215.9,182.5 L212.6,188.7 L209.5,195.1 L206.8,201.6 L204.2,208.2 L201.9,214.9 L199.7,221.6 L197.6,228.3 M259.2,165.9 L252.3,165.5 L245.4,165.9 L238.8,167.5 L232.5,169.8 L227.2,174.1 L223.1,179.6 L219.5,185.5 L216.3,191.7 L213.4,198.0 L210.8,204.4 L208.4,210.9 L206.2,217.5 L204.2,224.1 L202.3,230.8 M260.8,167.1 L254.0,166.5 L247.3,167.0 L241.0,169.3 L235.2,172.5 L230.4,177.1 L226.4,182.7 L223.1,188.6 L220.0,194.6 L217.3,200.8 L214.8,207.2 L212.6,213.6 L210.6,220.1 L208.7,226.6 L207.0,233.2" fill="none" stroke="#2a1c08" stroke-width="0.7"/><circle cx="247.9" cy="165.2" r="1.5" fill="#8a5410"/><circle cx="234.4" cy="167.6" r="1.5" fill="#8a5410"/><circle cx="223.5" cy="175.3" r="1.5" fill="#8a5410"/><circle cx="216.1" cy="187.1" r="1.5" fill="#8a5410"/><circle cx="210.1" cy="199.8" r="1.5" fill="#8a5410"/><circle cx="205.2" cy="212.9" r="1.5" fill="#8a5410"/><circle cx="200.9" cy="226.2" r="1.5" fill="#8a5410"/><path d="M256.0,163.5 L248.8,163.6 L241.6,163.7 L234.4,163.9 L227.2,164.6 L221.0,168.0 L216.4,173.5 L212.3,179.4 L208.8,185.8 L205.7,192.2 L202.8,198.8 L200.1,205.5 L197.5,212.3 L195.2,219.1 L192.9,225.9 L210.5,235.0 L212.1,228.5 L213.8,222.0 L215.7,215.6 L217.8,209.3 L220.2,203.0 L222.8,196.9 L225.7,190.8 L229.0,185.0 L232.7,179.4 L237.2,174.5 L242.6,170.6 L248.7,167.8 L255.3,167.3 L262.0,168.0Z" fill="none" stroke="#1d1d1b" stroke-width="0.9"/>
<path d="M203.0,171.0 C201.3,171.6 196.5,171.6 192.9,174.4 C189.3,177.2 184.3,183.2 181.4,188.0 C178.5,192.8 176.5,199.0 175.7,203.0 C174.8,207.0 175.5,209.3 176.3,212.0 C177.1,214.7 177.5,216.6 180.3,219.0 C183.1,221.4 188.3,223.9 192.9,226.4 C197.5,228.9 204.9,231.8 207.7,233.9 C210.5,236.0 209.2,238.2 209.5,239.0" fill="none" stroke="#1d1d1b" stroke-width="1.2"/>
<path d="M194.5,402 L206,399.5 L210,402 L215,422.5 L200.5,425 Z" fill="#6e6e6e" stroke="#222" stroke-width="1" stroke-linejoin="round"/>
<path d="M197,405.8 L208.5,403.8 M198.8,411.8 L210.5,409.8 M200.6,417.8 L212.3,415.8" stroke="#1e1e1e" stroke-width="3.6" fill="none" stroke-linecap="round"/>
<path d="M197,405.8 L208.5,403.8 M198.8,411.8 L210.5,409.8 M200.6,417.8 L212.3,415.8" stroke="#f4f4f4" stroke-width="2.2" fill="none" stroke-linecap="round"/>
<path d="M200,425 L215.5,422.8 L217.5,435 L205,436.5 Z" fill="#a6a6a6" stroke="#333" stroke-width="0.7"/>
<path d="M205,436 L218,439 L231.5,490 L255,526 L242,535 L232,497 Z" fill="#c6c6c6" stroke="#1d1d1b" stroke-width="0.9" stroke-linejoin="round"/>
<path d="M481.0,184.0 C484.0,183.4 492.9,186.5 496.6,187.4 C500.3,188.3 505.4,189.4 508.6,191.0 C511.8,192.6 517.6,196.2 520.6,199.4 C523.6,202.6 528.7,210.4 531.0,215.0 C533.3,219.6 536.4,228.7 537.7,233.7 C539.0,238.7 540.5,248.0 541.0,252.6 C541.5,257.2 541.2,262.6 541.5,268.0 C541.8,273.4 543.2,283.8 543.0,293.0 C542.8,302.2 541.3,326.5 540.0,337.0 C538.7,347.5 535.1,363.5 533.0,371.5 C530.9,379.5 525.5,391.3 524.0,397.0 C522.5,402.7 523.0,409.1 521.5,414.0 C520.0,418.9 515.1,429.7 513.0,434.0 C510.9,438.3 507.7,443.1 506.0,446.0 C504.3,448.9 502.5,453.9 500.0,456.0 C497.5,458.1 489.5,461.0 487.0,461.5 C484.5,462.0 482.4,461.7 481.5,460.0 C480.6,458.3 479.7,454.6 480.0,448.5 C480.3,442.4 482.5,424.3 484.0,414.0 C485.5,403.7 489.8,382.9 491.5,371.5 C493.2,360.1 496.1,338.0 497.0,328.5 C497.9,319.0 498.6,306.5 498.5,300.0 C498.4,293.5 496.5,285.6 496.0,280.0 C495.5,274.4 495.6,263.0 494.9,258.0 C494.2,253.0 492.0,246.9 490.6,242.3 C489.2,237.7 486.3,228.2 484.6,223.4 C482.9,218.6 479.1,210.5 477.7,206.3 C476.3,202.1 473.6,195.0 474.0,192.0 C474.4,189.0 478.0,184.6 481.0,184.0Z" fill="url(#strapR)" stroke="#1d1d1b" stroke-width="1.2"/>
<clipPath id="csr"><path d="M481.0,184.0 C484.0,183.4 492.9,186.5 496.6,187.4 C500.3,188.3 505.4,189.4 508.6,191.0 C511.8,192.6 517.6,196.2 520.6,199.4 C523.6,202.6 528.7,210.4 531.0,215.0 C533.3,219.6 536.4,228.7 537.7,233.7 C539.0,238.7 540.5,248.0 541.0,252.6 C541.5,257.2 541.2,262.6 541.5,268.0 C541.8,273.4 543.2,283.8 543.0,293.0 C542.8,302.2 541.3,326.5 540.0,337.0 C538.7,347.5 535.1,363.5 533.0,371.5 C530.9,379.5 525.5,391.3 524.0,397.0 C522.5,402.7 523.0,409.1 521.5,414.0 C520.0,418.9 515.1,429.7 513.0,434.0 C510.9,438.3 507.7,443.1 506.0,446.0 C504.3,448.9 502.5,453.9 500.0,456.0 C497.5,458.1 489.5,461.0 487.0,461.5 C484.5,462.0 482.4,461.7 481.5,460.0 C480.6,458.3 479.7,454.6 480.0,448.5 C480.3,442.4 482.5,424.3 484.0,414.0 C485.5,403.7 489.8,382.9 491.5,371.5 C493.2,360.1 496.1,338.0 497.0,328.5 C497.9,319.0 498.6,306.5 498.5,300.0 C498.4,293.5 496.5,285.6 496.0,280.0 C495.5,274.4 495.6,263.0 494.9,258.0 C494.2,253.0 492.0,246.9 490.6,242.3 C489.2,237.7 486.3,228.2 484.6,223.4 C482.9,218.6 479.1,210.5 477.7,206.3 C476.3,202.1 473.6,195.0 474.0,192.0 C474.4,189.0 478.0,184.6 481.0,184.0Z"/></clipPath>
<g clip-path="url(#csr)"><path d="M541.0,262.0 C541.1,263.5 543.4,269.3 541.5,273.0 C539.6,276.7 529.9,285.9 527.0,290.0 C524.1,294.1 521.1,298.9 520.0,304.0 C518.9,309.1 519.0,321.4 518.5,328.5 C518.0,335.6 516.7,350.9 516.0,357.0 C515.3,363.1 513.0,369.6 513.0,374.0 C513.0,378.4 515.6,387.9 516.0,390.0" fill="none" stroke="#fff" stroke-opacity="0.55" stroke-width="16" filter="url(#bl2)"/><path d="M495.0,262.0 C495.5,267.1 498.2,291.1 498.5,300.0 C498.8,308.9 497.9,319.0 497.0,328.5 C496.1,338.0 493.2,360.1 491.5,371.5 C489.8,382.9 485.5,403.7 484.0,414.0 C482.5,424.3 480.5,443.9 480.0,448.5" fill="none" stroke="#222" stroke-opacity="0.45" stroke-width="10" filter="url(#bl)"/></g>
<path d="M481.0,184.0 C484.0,183.4 492.9,186.5 496.6,187.4 C500.3,188.3 505.4,189.4 508.6,191.0 C511.8,192.6 517.6,196.2 520.6,199.4 C523.6,202.6 528.7,210.4 531.0,215.0 C533.3,219.6 536.4,228.7 537.7,233.7 C539.0,238.7 540.5,248.0 541.0,252.6 C541.5,257.2 541.2,262.6 541.5,268.0 C541.8,273.4 543.2,283.8 543.0,293.0 C542.8,302.2 541.3,326.5 540.0,337.0 C538.7,347.5 535.1,363.5 533.0,371.5 C530.9,379.5 525.5,391.3 524.0,397.0 C522.5,402.7 523.0,409.1 521.5,414.0 C520.0,418.9 515.1,429.7 513.0,434.0 C510.9,438.3 507.7,443.1 506.0,446.0 C504.3,448.9 502.5,453.9 500.0,456.0 C497.5,458.1 489.5,461.0 487.0,461.5 C484.5,462.0 482.4,461.7 481.5,460.0 C480.6,458.3 479.7,454.6 480.0,448.5 C480.3,442.4 482.5,424.3 484.0,414.0 C485.5,403.7 489.8,382.9 491.5,371.5 C493.2,360.1 496.1,338.0 497.0,328.5 C497.9,319.0 498.6,306.5 498.5,300.0 C498.4,293.5 496.5,285.6 496.0,280.0 C495.5,274.4 495.6,263.0 494.9,258.0 C494.2,253.0 492.0,246.9 490.6,242.3 C489.2,237.7 486.3,228.2 484.6,223.4 C482.9,218.6 479.1,210.5 477.7,206.3 C476.3,202.1 473.6,195.0 474.0,192.0 C474.4,189.0 478.0,184.6 481.0,184.0Z" fill="none" stroke="#1d1d1b" stroke-width="1.7"/>
<path d="M541.5,273.0 C543.6,273.4 543.2,284.5 543.0,293.0 C542.8,301.5 541.3,326.5 540.0,337.0 C538.7,347.5 535.1,363.5 533.0,371.5 C530.9,379.5 526.3,395.1 524.0,397.0 C521.7,398.9 517.5,389.1 516.0,386.0 C514.5,382.9 513.0,377.9 513.0,374.0 C513.0,370.1 515.3,363.1 516.0,357.0 C516.7,350.9 518.0,335.6 518.5,328.5 C519.0,321.4 518.9,309.1 520.0,304.0 C521.1,298.9 524.1,294.1 527.0,290.0 C529.9,285.9 539.4,272.6 541.5,273.0Z" fill="url(#meshR)" stroke="#1d1d1b" stroke-width="0.9"/>
<path d="M458.0,189.5 L463.6,191.1 L468.4,194.3 L472.1,198.7 L475.3,203.6 L477.9,208.9 L480.2,214.2 L482.3,219.6 L484.4,225.1 L486.3,230.6 L488.1,236.1 L489.7,241.7 L491.2,247.3 L492.8,252.9 L494.5,258.5 L508.0,246.6 L506.9,240.1 L505.6,233.7 L504.1,227.3 L502.2,221.0 L499.8,214.9 L497.2,208.9 L494.3,203.0 L491.1,197.3 L487.5,191.8 L483.4,186.7 L477.6,183.7 L471.1,183.0 L464.6,182.8 L458.0,183.0Z" fill="#f0901e"/><path d="M463.6,191.1 L464.6,182.8 M468.4,194.3 L471.1,183.0 M472.1,198.7 L477.6,183.7 M475.3,203.6 L483.4,186.7 M477.9,208.9 L487.5,191.8 M480.2,214.2 L491.1,197.3 M482.3,219.6 L494.3,203.0 M484.4,225.1 L497.2,208.9 M486.3,230.6 L499.8,214.9 M488.1,236.1 L502.2,221.0 M489.7,241.7 L504.1,227.3 M491.2,247.3 L505.6,233.7 M492.8,252.9 L506.9,240.1 M458.0,187.3 L463.9,188.4 L469.3,190.5 L474.0,193.7 L478.0,198.0 L481.1,203.2 L483.8,208.6 L486.3,214.1 L488.6,219.7 L490.8,225.4 L492.8,231.1 L494.5,236.9 L496.0,242.8 L497.5,248.7 L499.0,254.5 M458.0,185.2 L464.2,185.6 L470.2,186.7 L475.8,188.7 L480.7,192.4 L484.3,197.5 L487.5,202.9 L490.3,208.6 L492.9,214.3 L495.3,220.1 L497.5,226.1 L499.3,232.1 L500.8,238.2 L502.2,244.4 L503.5,250.6" fill="none" stroke="#2a1c08" stroke-width="0.7"/><circle cx="466.9" cy="187.8" r="1.5" fill="#8a5410"/><circle cx="477.1" cy="193.2" r="1.5" fill="#8a5410"/><circle cx="484.2" cy="203.0" r="1.5" fill="#8a5410"/><circle cx="489.5" cy="214.2" r="1.5" fill="#8a5410"/><circle cx="494.1" cy="225.7" r="1.5" fill="#8a5410"/><circle cx="497.7" cy="237.5" r="1.5" fill="#8a5410"/><circle cx="500.6" cy="249.5" r="1.5" fill="#8a5410"/><path d="M458.0,189.5 L463.6,191.1 L468.4,194.3 L472.1,198.7 L475.3,203.6 L477.9,208.9 L480.2,214.2 L482.3,219.6 L484.4,225.1 L486.3,230.6 L488.1,236.1 L489.7,241.7 L491.2,247.3 L492.8,252.9 L494.5,258.5 L508.0,246.6 L506.9,240.1 L505.6,233.7 L504.1,227.3 L502.2,221.0 L499.8,214.9 L497.2,208.9 L494.3,203.0 L491.1,197.3 L487.5,191.8 L483.4,186.7 L477.6,183.7 L471.1,183.0 L464.6,182.8 L458.0,183.0Z" fill="none" stroke="#1d1d1b" stroke-width="0.9"/>
<path d="M493.0,187.0 L500.0,191.7 L505.8,197.9 L510.4,205.0 L513.9,212.8 L516.8,220.8 L518.9,229.0 L520.0,237.4 L520.5,238.0 L525.6,230.4 L525.8,221.2 L522.9,212.3 L518.5,204.1 L513.0,196.6 L505.6,191.0 L497.0,187.5Z" fill="#f0901e"/><path d="M500.0,191.7 L505.6,191.0 M505.8,197.9 L513.0,196.6 M510.4,205.0 L518.5,204.1 M513.9,212.8 L522.9,212.3 M516.8,220.8 L525.8,221.2 M518.9,229.0 L525.6,230.4 M495.0,187.2 L502.8,191.3 L509.4,197.3 L514.5,204.6 L518.4,212.6 L521.3,221.0 L522.3,229.7 L520.2,237.7" fill="none" stroke="#2a1c08" stroke-width="0.7"/><circle cx="506.1" cy="194.3" r="1.5" fill="#8a5410"/><circle cx="516.4" cy="208.6" r="1.5" fill="#8a5410"/><circle cx="521.8" cy="225.3" r="1.5" fill="#8a5410"/><path d="M493.0,187.0 L500.0,191.7 L505.8,197.9 L510.4,205.0 L513.9,212.8 L516.8,220.8 L518.9,229.0 L520.0,237.4 L520.5,238.0 L525.6,230.4 L525.8,221.2 L522.9,212.3 L518.5,204.1 L513.0,196.6 L505.6,191.0 L497.0,187.5Z" fill="none" stroke="#1d1d1b" stroke-width="0.9"/>
<path d="M497.0,187.5 C498.4,188.1 502.9,189.3 505.7,191.0 C508.5,192.7 511.2,194.6 513.7,197.4 C516.2,200.2 518.7,204.3 520.6,207.7 C522.5,211.1 524.0,214.8 525.0,218.0 C526.0,221.2 526.5,224.3 526.3,227.0 C526.1,229.7 525.0,232.2 524.0,234.0 C523.0,235.8 521.5,236.7 520.0,238.0 C518.5,239.3 516.9,240.4 514.9,242.0 C512.9,243.6 511.3,244.9 508.0,247.7 C504.7,250.5 497.1,256.8 494.9,258.6" fill="none" stroke="#1d1d1b" stroke-width="1.2"/>
<path d="M301.6,166.6 L313.5,167 C311,170.5 306,172.2 299,169.8 C285,167 265,163 246,161 L246,160.2 C265,161.6 285,164.5 301.6,166.6Z" fill="#d9d9d9" stroke="#1d1d1b" stroke-width="0.8"/>
<g transform="translate(301.5,138.4)"><rect x="0" y="0" width="14.2" height="28.2" rx="3.6" fill="#b9b9b9" stroke="#1d1d1b" stroke-width="1.1"/><rect x="0.8" y="0.8" width="12.6" height="3.2" rx="1.5" fill="#8a8a8a"/><path d="M0.6,5.6 L13.6,5.6 M0.6,9.6 L13.6,9.6 M0.6,13.6 L13.6,13.6" stroke="#2b2b2b" stroke-width="1.5"/><path d="M1,7.6 L13.2,7.6" stroke="#6a6a6a" stroke-width="2.2"/><path d="M1.4,11.6 L12.799999999999999,11.6" stroke="#e2e2e2" stroke-width="2.2"/><rect x="0.8" y="14.6" width="12.6" height="12.6" rx="2.5" fill="#a9a9a9"/></g>
<path d="M421.5,170 L431.5,170 C431.5,176 434,179.5 460,178.2 L481,178.5 L481,180.5 L460,180.8 C433,183.5 424,181.5 421.5,170Z" fill="#d9d9d9" stroke="#1d1d1b" stroke-width="0.8"/>
<g transform="translate(419,142.5)"><rect x="0" y="0" width="13.8" height="28" rx="3.6" fill="#b9b9b9" stroke="#1d1d1b" stroke-width="1.1"/><rect x="0.8" y="0.8" width="12.200000000000001" height="3.2" rx="1.5" fill="#8a8a8a"/><path d="M0.6,5.6 L13.200000000000001,5.6 M0.6,9.6 L13.200000000000001,9.6 M0.6,13.6 L13.200000000000001,13.6" stroke="#2b2b2b" stroke-width="1.5"/><path d="M1,7.6 L12.8,7.6" stroke="#6a6a6a" stroke-width="2.2"/><path d="M1.4,11.6 L12.4,11.6" stroke="#e2e2e2" stroke-width="2.2"/><rect x="0.8" y="14.6" width="12.200000000000001" height="12.4" rx="2.5" fill="#a9a9a9"/></g>
<clipPath id="c2"><path d="M0,0 H700 V700 H0 Z M256.0,163.0 C252.1,162.6 233.6,162.8 227.0,163.7 C220.4,164.6 211.5,167.9 206.5,169.7 C201.5,171.5 193.5,174.3 189.4,177.4 C185.3,180.5 178.7,188.0 175.7,193.0 C172.7,198.0 168.8,209.3 167.0,215.0 C165.2,220.7 162.9,230.6 162.0,235.7 C161.1,240.8 160.1,249.6 160.0,253.0 C159.9,256.4 160.8,253.8 161.0,261.0 C161.2,268.2 160.5,295.9 161.5,307.0 C162.5,318.1 166.2,334.8 168.5,344.0 C170.8,353.2 176.5,368.9 178.5,376.0 C180.5,383.1 181.9,391.9 183.7,397.0 C185.5,402.1 190.0,410.2 192.3,414.3 C194.6,418.4 199.1,425.2 200.9,428.0 C202.7,430.8 204.3,432.9 206.0,435.0 C207.7,437.1 211.9,442.5 214.0,444.0 C216.1,445.5 219.9,446.3 221.4,446.0 C222.9,445.7 224.4,443.6 225.0,441.7 C225.6,439.8 226.0,435.1 225.7,431.4 C225.4,427.7 223.8,418.9 223.0,414.3 C222.2,409.7 220.7,401.6 219.7,397.0 C218.7,392.4 216.7,388.1 215.4,380.0 C214.1,371.9 211.3,347.6 210.0,336.0 C208.7,324.4 206.5,304.1 206.0,293.0 C205.5,281.9 206.2,260.2 206.6,253.0 C207.0,245.8 208.7,241.5 209.0,239.0 C209.3,236.5 208.6,236.3 209.0,234.0 C209.4,231.7 210.6,225.4 211.7,222.0 C212.8,218.6 215.5,212.0 216.9,208.3 C218.3,204.6 220.4,198.0 222.0,194.6 C223.6,191.2 226.6,185.6 228.9,182.6 C231.2,179.6 235.4,174.1 239.0,172.0 C242.6,169.9 253.7,168.2 256.0,167.0 C258.3,165.8 259.9,163.4 256.0,163.0Z" clip-rule="evenodd"/><path d="M160.5,253.0 C160.5,254.5 160.9,253.8 161.0,261.0 C161.1,268.2 160.5,295.9 161.5,307.0 C162.5,318.1 166.2,334.8 168.5,344.0 C170.8,353.2 176.6,373.3 178.5,376.0 C180.4,378.7 181.7,368.3 183.0,364.0 C184.3,359.7 188.4,351.6 188.5,344.0 C188.6,336.4 185.1,315.7 184.0,307.0 C182.9,298.3 182.4,285.1 180.0,279.0 C177.6,272.9 168.5,264.9 166.0,261.0 C163.5,257.1 161.7,251.1 161.0,250.0 C160.3,248.9 160.5,251.5 160.5,253.0Z"/></clipPath>
<g style="mix-blend-mode:multiply">
<path d="M151,164.6 L180,161 L167,187.7 Z M242.6,251 L216,238.3 L241.7,222 Z" fill="url(#ar1)"/><path d="M173.5,174.3 C177.1,176.9 188.1,183.7 195.0,190.0 C201.9,196.3 209.3,205.3 215.0,212.0 C220.7,218.7 226.7,227.0 229.0,230.0" fill="none" stroke="url(#ar1)" stroke-width="6.6"/>
<g clip-path="url(#c2)"><path d="M241.6,290 L216,286 L226,311 Z M135,376 L139,349 L160,364 Z" fill="url(#ar2)"/><path d="M221.0,298.0 C218.5,299.2 212.2,301.3 206.0,305.0 C199.8,308.7 190.7,315.2 184.0,320.0 C177.3,324.8 171.0,329.0 166.0,334.0 C161.0,339.0 156.9,346.1 154.0,350.0 C151.1,353.9 149.4,356.2 148.5,357.5" fill="none" stroke="url(#ar2)" stroke-width="7.1"/></g>
<path d="M191.5,528.5 L193,554 L214,541.5 Z M287,624 L261.5,624 L276,603 Z" fill="url(#ar3)"/><path d="M203.5,547.0 C205.6,550.2 211.2,559.5 216.0,566.0 C220.8,572.5 226.3,580.0 232.0,586.0 C237.7,592.0 243.9,597.4 250.0,602.0 C256.1,606.6 265.6,611.6 268.7,613.5" fill="none" stroke="url(#ar3)" stroke-width="7.0"/>
<path d="M254,367 L284,348.5 L286,383 Z M484,385 L457,360 L448.5,396 Z" fill="url(#ar4)"/><path d="M285.0,366.0 C295.8,366.1 330.8,365.8 350.0,366.5 C369.2,367.2 382.8,368.1 400.0,370.0 C417.2,371.9 444.2,376.7 453.0,378.0" fill="none" stroke="url(#ar4)" stroke-width="6.6"/>
</g>
<g opacity="0.38">
<path d="M151,164.6 L180,161 L167,187.7 Z M242.6,251 L216,238.3 L241.7,222 Z" fill="url(#ar1)"/><path d="M173.5,174.3 C177.1,176.9 188.1,183.7 195.0,190.0 C201.9,196.3 209.3,205.3 215.0,212.0 C220.7,218.7 226.7,227.0 229.0,230.0" fill="none" stroke="url(#ar1)" stroke-width="6.6"/>
<g clip-path="url(#c2)"><path d="M241.6,290 L216,286 L226,311 Z M135,376 L139,349 L160,364 Z" fill="url(#ar2)"/><path d="M221.0,298.0 C218.5,299.2 212.2,301.3 206.0,305.0 C199.8,308.7 190.7,315.2 184.0,320.0 C177.3,324.8 171.0,329.0 166.0,334.0 C161.0,339.0 156.9,346.1 154.0,350.0 C151.1,353.9 149.4,356.2 148.5,357.5" fill="none" stroke="url(#ar2)" stroke-width="7.1"/></g>
<path d="M191.5,528.5 L193,554 L214,541.5 Z M287,624 L261.5,624 L276,603 Z" fill="url(#ar3)"/><path d="M203.5,547.0 C205.6,550.2 211.2,559.5 216.0,566.0 C220.8,572.5 226.3,580.0 232.0,586.0 C237.7,592.0 243.9,597.4 250.0,602.0 C256.1,606.6 265.6,611.6 268.7,613.5" fill="none" stroke="url(#ar3)" stroke-width="7.0"/>
<path d="M254,367 L284,348.5 L286,383 Z M484,385 L457,360 L448.5,396 Z" fill="url(#ar4)"/><path d="M285.0,366.0 C295.8,366.1 330.8,365.8 350.0,366.5 C369.2,367.2 382.8,368.1 400.0,370.0 C417.2,371.9 444.2,376.7 453.0,378.0" fill="none" stroke="url(#ar4)" stroke-width="6.6"/>
</g>
<clipPath id="cs"><path d="M353,244 L391.5,246 L391.5,300 L393.7,323 L408.5,351.5 L410,386 L409,460 L403,483 L394,494 L384,514 L381.5,588.5 L348.5,583 L347,508.5 L340,488.5 L331.5,477 L327,460 L327,414 L328.5,366 L331.5,348.5 L348.5,323 L351.5,300Z"/></clipPath>
<g clip-path="url(#cs)"><path d="M254,367 L284,348.5 L286,383 Z M484,385 L457,360 L448.5,396 Z" fill="#14934a"/><path d="M285.0,366.0 C295.8,366.1 330.8,365.8 350.0,366.5 C369.2,367.2 382.8,368.1 400.0,370.0 C417.2,371.9 444.2,376.7 453.0,378.0" fill="none" stroke="#14934a" stroke-width="6.6"/><path d="M353,244 L391.5,246 L391.5,300 L393.7,323 L408.5,351.5 L410,386 L409,460 L403,483 L394,494 L384,514 L381.5,588.5 L348.5,583 L347,508.5 L340,488.5 L331.5,477 L327,460 L327,414 L328.5,366 L331.5,348.5 L348.5,323 L351.5,300Z" fill="url(#ora)"/></g>
<clipPath id="cp"><path d="M208.0,616.0 C206.2,614.2 207.7,604.3 209.0,600.0 C210.3,595.7 212.5,592.7 216.0,590.0 C219.5,587.3 224.3,586.0 230.0,584.0 C235.7,582.0 244.3,579.3 250.0,578.0 C255.7,576.7 260.0,575.3 264.0,576.0 C268.0,576.7 271.5,578.7 274.0,582.0 C276.5,585.3 281.3,593.0 279.0,596.0 C276.7,599.0 266.5,598.7 260.0,600.0 C253.5,601.3 246.7,602.2 240.0,604.0 C233.3,605.8 225.3,609.0 220.0,611.0 C214.7,613.0 209.8,617.8 208.0,616.0Z"/></clipPath>
<g clip-path="url(#cp)"><path d="M191.5,528.5 L193,554 L214,541.5 Z M287,624 L261.5,624 L276,603 Z" fill="#14934a"/><path d="M203.5,547.0 C205.6,550.2 211.2,559.5 216.0,566.0 C220.8,572.5 226.3,580.0 232.0,586.0 C237.7,592.0 243.9,597.4 250.0,602.0 C256.1,606.6 265.6,611.6 268.7,613.5" fill="none" stroke="#14934a" stroke-width="7.0"/><path d="M208.0,616.0 C206.2,614.2 207.7,604.3 209.0,600.0 C210.3,595.7 212.5,592.7 216.0,590.0 C219.5,587.3 224.3,586.0 230.0,584.0 C235.7,582.0 244.3,579.3 250.0,578.0 C255.7,576.7 260.0,575.3 264.0,576.0 C268.0,576.7 271.5,578.7 274.0,582.0 C276.5,585.3 281.3,593.0 279.0,596.0 C276.7,599.0 266.5,598.7 260.0,600.0 C253.5,601.3 246.7,602.2 240.0,604.0 C233.3,605.8 225.3,609.0 220.0,611.0 C214.7,613.0 209.8,617.8 208.0,616.0Z" fill="url(#ora)"/></g>
<clipPath id="cb"><path d="M203.0,171.0 L194.5,173.4 L187.9,179.2 L182.5,186.2 L178.4,194.1 L175.8,202.5 L176.1,211.3 L180.3,219.0 L180.9,219.5 L183.2,212.2 L186.2,205.1 L189.5,198.2 L192.8,191.2 L196.4,184.5 L200.8,178.1 L205.4,172.0Z M256.0,163.5 L248.8,163.6 L241.6,163.7 L234.4,163.9 L227.2,164.6 L221.0,168.0 L216.4,173.5 L212.3,179.4 L208.8,185.8 L205.7,192.2 L202.8,198.8 L200.1,205.5 L197.5,212.3 L195.2,219.1 L192.9,225.9 L210.5,235.0 L212.1,228.5 L213.8,222.0 L215.7,215.6 L217.8,209.3 L220.2,203.0 L222.8,196.9 L225.7,190.8 L229.0,185.0 L232.7,179.4 L237.2,174.5 L242.6,170.6 L248.7,167.8 L255.3,167.3 L262.0,168.0Z"/></clipPath>
<g clip-path="url(#cb)"><path d="M151,164.6 L180,161 L167,187.7 Z M242.6,251 L216,238.3 L241.7,222 Z" fill="#14934a"/><path d="M173.5,174.3 C177.1,176.9 188.1,183.7 195.0,190.0 C201.9,196.3 209.3,205.3 215.0,212.0 C220.7,218.7 226.7,227.0 229.0,230.0" fill="none" stroke="#14934a" stroke-width="6.6"/></g>
<path d="M194.5,173.4 L200.8,178.1 M187.9,179.2 L196.4,184.5 M182.5,186.2 L192.8,191.2 M178.4,194.1 L189.5,198.2 M175.8,202.5 L186.2,205.1 M176.1,211.3 L183.2,212.2 M204.2,171.5 L197.7,175.8 L192.2,181.9 L187.7,188.7 L184.0,196.1 L181.0,203.8 L179.7,211.7 L180.6,219.2" fill="none" stroke="#2a1c08" stroke-width="0.7"/><circle cx="194.9" cy="178.8" r="1.5" fill="#8a5410"/><circle cx="185.8" cy="192.4" r="1.5" fill="#8a5410"/><circle cx="180.3" cy="207.8" r="1.5" fill="#8a5410"/><path d="M203.0,171.0 L194.5,173.4 L187.9,179.2 L182.5,186.2 L178.4,194.1 L175.8,202.5 L176.1,211.3 L180.3,219.0 L180.9,219.5 L183.2,212.2 L186.2,205.1 L189.5,198.2 L192.8,191.2 L196.4,184.5 L200.8,178.1 L205.4,172.0Z" fill="none" stroke="#1d1d1b" stroke-width="0.9"/>
<path d="M248.8,163.6 L254.0,166.5 M241.6,163.7 L247.3,167.0 M234.4,163.9 L241.0,169.3 M227.2,164.6 L235.2,172.5 M221.0,168.0 L230.4,177.1 M216.4,173.5 L226.4,182.7 M212.3,179.4 L223.1,188.6 M208.8,185.8 L220.0,194.6 M205.7,192.2 L217.3,200.8 M202.8,198.8 L214.8,207.2 M200.1,205.5 L212.6,213.6 M197.5,212.3 L210.6,220.1 M195.2,219.1 L208.7,226.6 M257.6,164.7 L250.5,164.5 L243.5,164.8 L236.6,165.7 L229.9,167.2 L224.1,171.0 L219.7,176.6 L215.9,182.5 L212.6,188.7 L209.5,195.1 L206.8,201.6 L204.2,208.2 L201.9,214.9 L199.7,221.6 L197.6,228.3 M259.2,165.9 L252.3,165.5 L245.4,165.9 L238.8,167.5 L232.5,169.8 L227.2,174.1 L223.1,179.6 L219.5,185.5 L216.3,191.7 L213.4,198.0 L210.8,204.4 L208.4,210.9 L206.2,217.5 L204.2,224.1 L202.3,230.8 M260.8,167.1 L254.0,166.5 L247.3,167.0 L241.0,169.3 L235.2,172.5 L230.4,177.1 L226.4,182.7 L223.1,188.6 L220.0,194.6 L217.3,200.8 L214.8,207.2 L212.6,213.6 L210.6,220.1 L208.7,226.6 L207.0,233.2" fill="none" stroke="#2a1c08" stroke-width="0.7"/><circle cx="247.9" cy="165.2" r="1.5" fill="#8a5410"/><circle cx="234.4" cy="167.6" r="1.5" fill="#8a5410"/><circle cx="223.5" cy="175.3" r="1.5" fill="#8a5410"/><circle cx="216.1" cy="187.1" r="1.5" fill="#8a5410"/><circle cx="210.1" cy="199.8" r="1.5" fill="#8a5410"/><circle cx="205.2" cy="212.9" r="1.5" fill="#8a5410"/><circle cx="200.9" cy="226.2" r="1.5" fill="#8a5410"/><path d="M256.0,163.5 L248.8,163.6 L241.6,163.7 L234.4,163.9 L227.2,164.6 L221.0,168.0 L216.4,173.5 L212.3,179.4 L208.8,185.8 L205.7,192.2 L202.8,198.8 L200.1,205.5 L197.5,212.3 L195.2,219.1 L192.9,225.9 L210.5,235.0 L212.1,228.5 L213.8,222.0 L215.7,215.6 L217.8,209.3 L220.2,203.0 L222.8,196.9 L225.7,190.8 L229.0,185.0 L232.7,179.4 L237.2,174.5 L242.6,170.6 L248.7,167.8 L255.3,167.3 L262.0,168.0Z" fill="none" stroke="#1d1d1b" stroke-width="0.9"/></svg></body></html>
